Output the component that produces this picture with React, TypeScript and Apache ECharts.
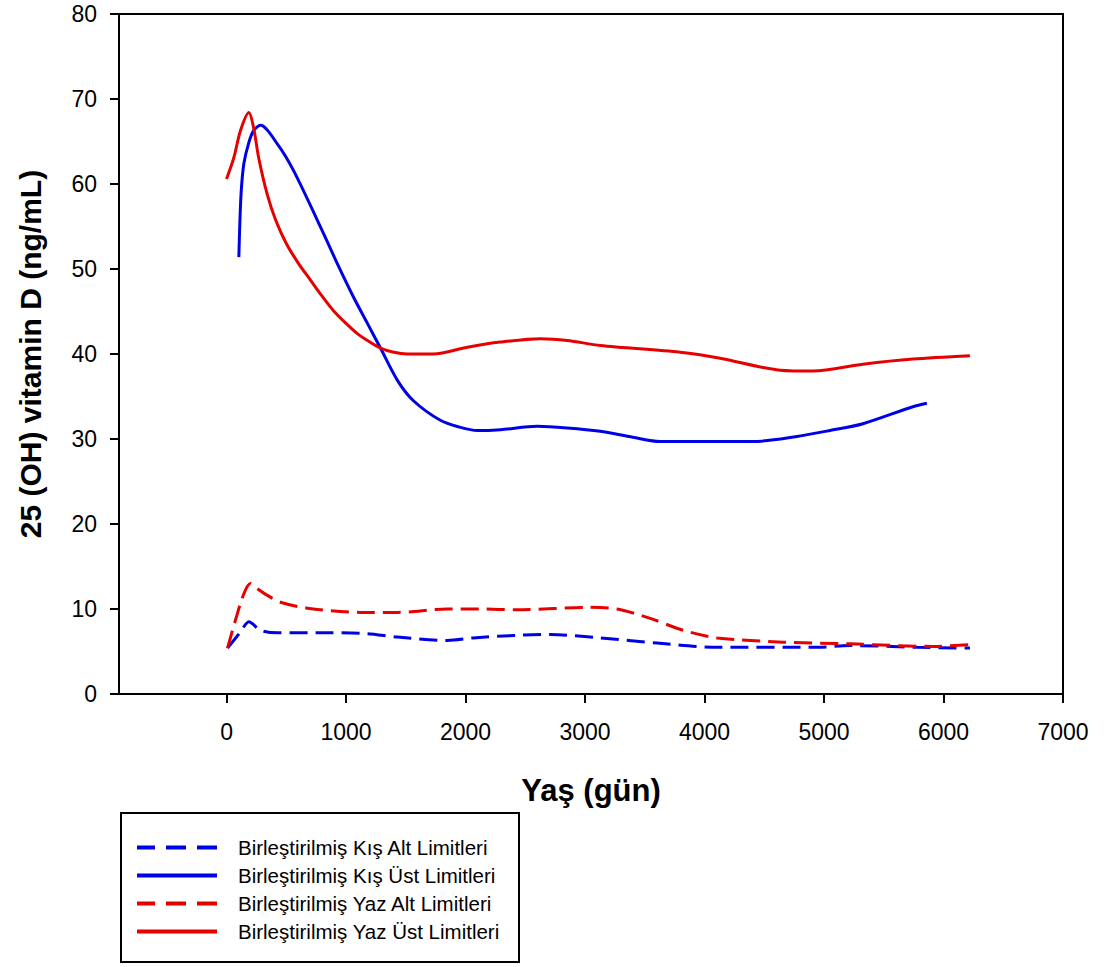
import React, { useEffect, useRef } from "react";
import * as echarts from "echarts";

const xTicks = [0, 1000, 2000, 3000, 4000, 5000, 6000, 7000];

const seriesNames = [
  "Birleştirilmiş Kış Alt Limitleri",
  "Birleştirilmiş Kış Üst Limitleri",
  "Birleştirilmiş Yaz Alt Limitleri",
  "Birleştirilmiş Yaz Üst Limitleri",
];

// Kış Alt (blue dashed)
const kisAltX = [8, 117, 187, 284, 426, 870, 1179, 1430, 1848, 2065, 2430, 2709, 3127, 3604, 4105, 4941, 5217, 5777, 6221];
const kisAltY = [5.4, 7.3, 8.5, 7.5, 7.2, 7.2, 7.1, 6.7, 6.3, 6.6, 6.9, 7.0, 6.6, 6.0, 5.5, 5.5, 5.7, 5.5, 5.4];

// Kış Üst (blue solid)
const kisUstX = [103, 111, 123, 145, 187, 228, 284, 426, 560, 811, 928, 1062, 1179, 1288, 1430, 1564, 1789, 1950, 2099, 2291, 2600, 2851, 3127, 3400, 3629, 4000, 4406, 4774, 5050, 5326, 5744, 5861];
const kisUstY = [51.4, 55.3, 59.2, 62.4, 64.9, 66.3, 66.9, 64.7, 61.6, 54.2, 50.6, 46.7, 43.6, 40.7, 36.9, 34.5, 32.2, 31.4, 31.0, 31.1, 31.5, 31.3, 30.9, 30.2, 29.7, 29.7, 29.7, 30.3, 31.0, 31.8, 33.8, 34.2];

// Yaz Alt (red dashed)
const yazAltX = [8, 75, 145, 200, 257, 343, 452, 677, 1120, 1430, 1848, 2124, 2430, 3043, 3269, 3545, 3821, 4105, 4657, 5217, 5911, 6221];
const yazAltY = [5.4, 8.7, 11.8, 13.0, 12.4, 11.6, 10.8, 10.1, 9.6, 9.6, 10.0, 10.0, 9.9, 10.2, 10.0, 8.9, 7.5, 6.6, 6.1, 5.9, 5.6, 5.8];

// Yaz Üst (red solid)
const yazUstX = [0, 61, 117, 187, 228, 270, 340, 410, 500, 600, 702, 800, 895, 1000, 1095, 1200, 1288, 1400, 1513, 1731, 2015, 2291, 2625, 2851, 3127, 3796, 4130, 4632, 4908, 5326, 5744, 6221];
const yazUstY = [60.6, 63.1, 66.3, 68.4, 66.5, 63.0, 58.8, 55.8, 53.0, 50.7, 48.7, 46.8, 45.1, 43.6, 42.4, 41.4, 40.7, 40.2, 40.0, 40.0, 40.8, 41.4, 41.8, 41.6, 41.0, 40.2, 39.5, 38.1, 38.0, 38.8, 39.4, 39.8];

const zip = (xs: number[], ys: number[]) => xs.map((x, i) => [x, ys[i]]);

const BLUE = "#0000e6";
const RED = "#e60000";
const FONT = "Liberation Sans, Arial, sans-serif";
const DASH_ICON = "path://M0,0h18v4h-18z M29,0h20v4h-20z M60,0h20v4h-20z";
const SOLID_ICON = "path://M0,0h80v4h-80z";

export default function App() {
  const ref = useRef<HTMLDivElement>(null);
  useEffect(() => {
    document.body.style.margin = "0";
    const chart = echarts.init(ref.current!, null, { renderer: "svg" });
    const mk = (name: string, xs: number[], ys: number[], color: string, dashed: boolean) => ({
      name,
      type: "line",
      data: zip(xs, ys),
      showSymbol: false,
      symbol: "none",
      smooth: 0.3,
      lineStyle: { color, width: 3, type: dashed ? [18, 8] : "solid" },
      itemStyle: { color },
    });
    chart.setOption({
      animation: false,
      backgroundColor: "#fff",
      textStyle: { fontFamily: FONT },
      grid: {
        left: 119,
        right: 48,
        top: 14,
        bottom: 273,
        show: true,
        borderColor: "#000",
        borderWidth: 2,
        containLabel: false,
      },
      xAxis: {
        type: "value",
        min: -900,
        max: 7000,
        name: "Yaş (gün)",
        nameLocation: "middle",
        nameGap: 81,
        nameTextStyle: { fontSize: 31, fontWeight: "bold", color: "#000", fontFamily: FONT },
        axisLine: { show: true, onZero: false, lineStyle: { color: "#000", width: 2 } },
        axisTick: { show: true, customValues: xTicks, length: 9, lineStyle: { color: "#000", width: 2 } },
        axisLabel: {
          customValues: xTicks,
          fontSize: 23,
          margin: 26,
          color: "#000",
          fontFamily: FONT,
          formatter: (v: number) => String(v),
        },
        splitLine: { show: false },
      },
      yAxis: {
        type: "value",
        min: 0,
        max: 80,
        interval: 10,
        name: "25 (OH) vitamin D (ng/mL)",
        nameLocation: "middle",
        nameGap: 74,
        nameTextStyle: { fontSize: 30, fontWeight: "bold", color: "#000", fontFamily: FONT },
        axisLine: { show: true, onZero: false, lineStyle: { color: "#000", width: 2 } },
        axisTick: { show: true, length: 9, lineStyle: { color: "#000", width: 2 } },
        axisLabel: { fontSize: 23, margin: 22, color: "#000", fontFamily: FONT, formatter: (v: number) => String(v) },
        splitLine: { show: false },
      },
      legend: {
        data: [
          { name: seriesNames[0], icon: DASH_ICON },
          { name: seriesNames[1], icon: SOLID_ICON },
          { name: seriesNames[2], icon: DASH_ICON },
          { name: seriesNames[3], icon: SOLID_ICON },
        ],
        orient: "vertical",
        left: 137,
        top: 837,
        padding: 0,
        itemWidth: 80,
        itemHeight: 4,
        itemGap: 7,
        textStyle: { fontSize: 20.5, color: "#000", fontFamily: FONT, padding: [0, 0, 0, 16], lineHeight: 20 },
      },
      graphic: [
        {
          type: "rect",
          shape: { x: 121, y: 813, width: 398, height: 149 },
          style: { fill: "none", stroke: "#000", lineWidth: 2 },
          silent: true,
        },
      ],
      series: [
        mk(seriesNames[0], kisAltX, kisAltY, BLUE, true),
        mk(seriesNames[1], kisUstX, kisUstY, BLUE, false),
        mk(seriesNames[2], yazAltX, yazAltY, RED, true),
        mk(seriesNames[3], yazUstX, yazUstY, RED, false),
      ],
    });
    return () => chart.dispose();
  }, []);
  return <div ref={ref} style={{ position: "fixed", left: 0, top: 0, width: 1111, height: 967 }} />;
}
